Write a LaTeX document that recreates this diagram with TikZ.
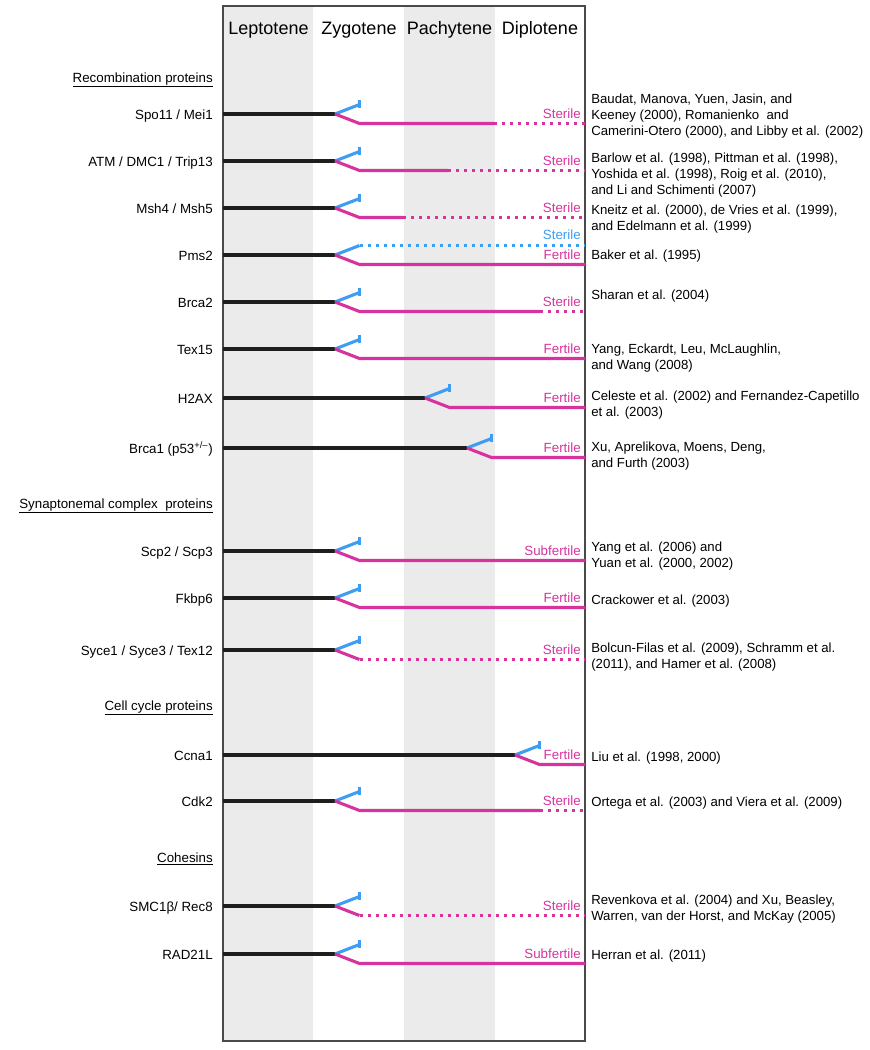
\documentclass[tikz,border=0pt]{standalone}
\usepackage{fontspec}
\setmainfont{Liberation Sans}
\usepackage{xcolor}
\definecolor{cPink}{HTML}{D6339E}
\definecolor{cBlue}{HTML}{3D9DF2}
\definecolor{cBand}{HTML}{EBEBEB}
\definecolor{cFrame}{HTML}{4A4A4A}
\definecolor{cInk}{HTML}{1E1E1E}
\usetikzlibrary{positioning,calc}
\tikzset{
  gene-label/.style={anchor=base east,inner sep=0pt,font=\fontsize{10}{12}\selectfont},
  group-label/.style={gene-label},
  stage-label/.style={anchor=base,inner sep=0pt,font=\fontsize{13.5}{16}\selectfont},
  status-label/.style={anchor=base east,inner sep=0pt,font=\fontsize{10}{12}\selectfont,text=cPink},
  ref-text/.style={anchor=base west,inner sep=0pt,align=left,font=\fontsize{9.9}{12}\selectfont},
  band/.style={fill=cBand,draw=none},
  frame/.style={draw=cFrame,line width=1.5pt},
  line-wt/.style={draw=cInk,line width=2.3pt},
  line-arrest/.style={draw=cBlue,line width=2.3pt},
  line-arrest-dots/.style={draw=cBlue,line width=2.4pt,dash pattern=on 2.6pt off 3.4pt},
  line-tick/.style={draw=cBlue,line width=1.6pt},
  line-mut/.style={draw=cPink,line width=2.3pt},
  line-mut-dots/.style={draw=cPink,line width=2.4pt,dash pattern=on 2.6pt off 3.4pt},
}
% one mutant row: name, row y, split x, end of solid pink x, gene, phenotype
\newcommand{\meiorow}[6]{%
  \node[gene-label] (#1) at (213,#2+5) {#5};
  \coordinate (#1-split) at (#3,#2);
  \draw[line-wt] (#1-split -| frame-nw) -- (#1-split);
  \draw[line-arrest] (#1-split) -- ++(24.5,-9.5) coordinate (#1-tip);
  \draw[line-tick] (#1-tip) ++(0,-4.5) -- ++(0,8);
  \draw[line-mut] (#1-split) -- ++(24.5,9.5) coordinate (#1-bend) -- (#4,#2+9.5) coordinate (#1-stop);
  \ifdim#4pt<584pt \draw[line-mut-dots] (#1-stop) -- (#1-stop -| frame-se);\fi
  \node[status-label] (#1-pheno) at (581,#2+4.5) {#6};
}

\begin{document}
\begin{tikzpicture}[x=0.75pt,y=-0.75pt]
  \useasboundingbox (0,0) rectangle (869,1050);
  \coordinate (frame-nw) at (222.5,6);
  \coordinate (frame-se) at (585,1040.5);
  \fill[band] (223,6) rectangle (313,1040);
  \fill[band] (404,6) rectangle (495,1040);
  \draw[frame] (frame-nw) rectangle (frame-se);

  \foreach \stage/\cx in {Leptotene/268.5,Zygotene/359,Pachytene/449.5,Diplotene/540}
    \node[stage-label] (st-\stage) at (\cx,34.5) {\stage};

  % groups
  \node[group-label] (grp-rec) at (213,82) {\underline{Recombination proteins}};
  \node[group-label] (grp-sc)  at (213,508) {\underline{Synaptonemal complex~ proteins}};
  \node[group-label] (grp-cc)  at (213,710) {\underline{Cell cycle proteins}};
  \node[group-label] (grp-coh) at (213,862) {\underline{Cohesins}};

  \meiorow{spo}{114}{335}{494}{Spo11 / Mei1}{Sterile}
  \meiorow{atm}{161}{335}{448}{ATM / DMC1 / Trip13}{Sterile}
  \meiorow{msh}{208}{335}{403}{Msh4 / Msh5}{Sterile}

  % Pms2: two outcomes
  \node[gene-label] (pms) at (213,260) {Pms2};
  \coordinate (pms-split) at (335,255);
  \draw[line-wt] (pms-split -| frame-nw) -- (pms-split);
  \draw[line-arrest] (pms-split) -- ++(24.5,-9.5) coordinate (pms-tip);
  \draw[line-arrest-dots] (pms-tip) -- (pms-tip -| frame-se);
  \draw[line-mut] (pms-split) -- ++(24.5,9.5) coordinate (pms-bend) -- (pms-bend -| frame-se);
  \node[status-label,text=cBlue] (pms-pheno2) at (581,239.5) {Sterile};
  \node[status-label] (pms-pheno) at (581,259.5) {Fertile};

  \meiorow{brca2}{302}{335}{540}{Brca2}{Sterile}
  \meiorow{tex}{349}{335}{585}{Tex15}{Fertile}
  \meiorow{h2ax}{398}{425}{585}{H2AX}{Fertile}
  \meiorow{brca1}{448}{467}{585}{Brca1 (p53\textsuperscript{+/--})}{Fertile}
  \meiorow{scp}{551}{335}{585}{Scp2 / Scp3}{Subfertile}
  \meiorow{fkbp}{598}{335}{585}{Fkbp6}{Fertile}
  \meiorow{syce}{650}{335}{359.5}{Syce1 / Syce3 / Tex12}{Sterile}
  \meiorow{ccna}{755}{515}{585}{Ccna1}{Fertile}
  \meiorow{cdk}{801}{335}{540}{Cdk2}{Sterile}
  \meiorow{smc}{906}{335}{359.5}{SMC1β/ Rec8}{Sterile}
  \meiorow{rad}{954}{335}{585}{RAD21L}{Subfertile}

  % references (base = last line)
  \node[ref-text] (spo-ref) at (591,135) {Baudat, Manova, Yuen, Jasin, and\\Keeney (2000), Romanienko~ and\\Camerini-Otero (2000), and Libby et al. (2002)};
  \node[ref-text] (atm-ref) at (591,194) {Barlow et al. (1998), Pittman et al. (1998),\\Yoshida et al. (1998), Roig et al. (2010),\\and Li and Schimenti (2007)};
  \node[ref-text] (msh-ref) at (591,230) {Kneitz et al. (2000), de Vries et al. (1999),\\and Edelmann et al. (1999)};
  \node[ref-text] (pms-ref) at (591,259) {Baker et al. (1995)};
  \node[ref-text] (brca2-ref) at (591,299) {Sharan et al. (2004)};
  \node[ref-text] (tex-ref) at (591,369) {Yang, Eckardt, Leu, McLaughlin,\\and Wang (2008)};
  \node[ref-text] (h2ax-ref) at (591,416) {Celeste et al. (2002) and Fernandez-Capetillo\\et al. (2003)};
  \node[ref-text] (brca1-ref) at (591,467) {Xu, Aprelikova, Moens, Deng,\\and Furth (2003)};
  \node[ref-text] (scp-ref) at (591,567) {Yang et al. (2006) and\\Yuan et al. (2000, 2002)};
  \node[ref-text] (fkbp-ref) at (591,604) {Crackower et al. (2003)};
  \node[ref-text] (syce-ref) at (591,668) {Bolcun-Filas et al. (2009), Schramm et al.\\(2011), and Hamer et al. (2008)};
  \node[ref-text] (ccna-ref) at (591,761) {Liu et al. (1998, 2000)};
  \node[ref-text] (cdk-ref) at (591,806) {Ortega et al. (2003) and Viera et al. (2009)};
  \node[ref-text] (smc-ref) at (591,920) {Revenkova et al. (2004) and Xu, Beasley,\\Warren, van der Horst, and McKay (2005)};
  \node[ref-text] (rad-ref) at (591,959) {Herran et al. (2011)};
\end{tikzpicture}
\end{document}
